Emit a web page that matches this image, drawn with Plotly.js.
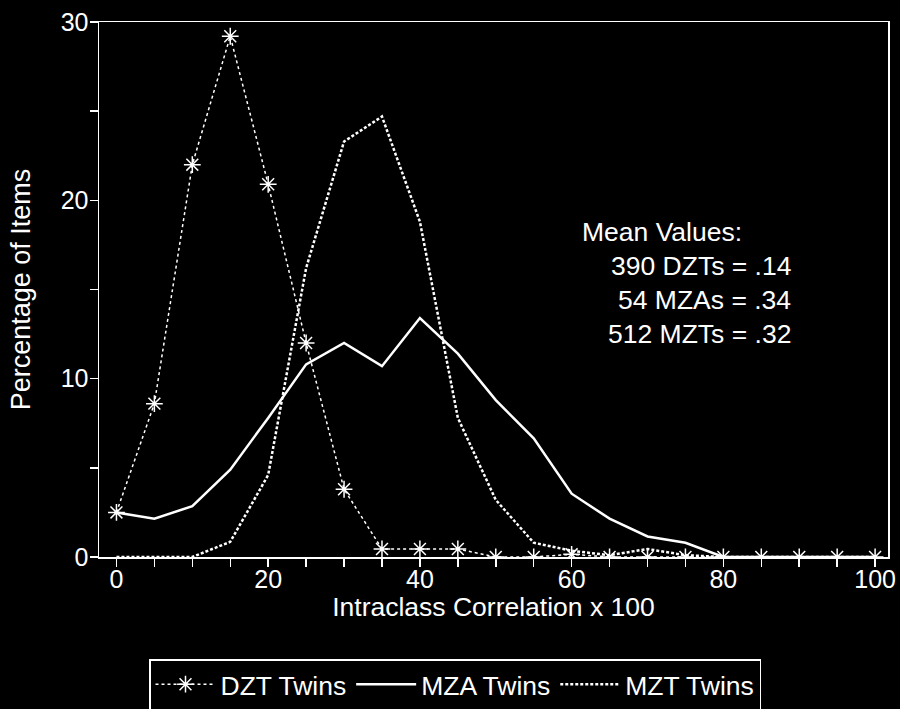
<!DOCTYPE html>
<html>
<head>
<meta charset="utf-8">
<script src="https://cdn.plot.ly/plotly-3.0.1.min.js"></script>
<style>html,body{margin:0;padding:0;background:#000;}#chart{width:900px;height:709px;}</style>
</head>
<body>
<div id="chart"></div>
<script>
const corr = [0,5,10,15,20,25,30,35,40,45,50,55,60,65,70,75,80,85,90,95,100];
const dzt = [2.5,8.6,22.0,29.2,20.9,12.0,3.8,0.45,0.45,0.45,0,0,0.15,0,0,0,0,0,0,0,0];
const mza = [2.5,2.15,2.85,4.9,7.8,10.8,12.0,10.7,13.4,11.4,8.8,6.65,3.55,2.15,1.15,0.8,0,0,0,0,0];
const mzt = [0,0,0,0.85,4.6,16.2,23.3,24.7,18.8,7.8,3.2,0.8,0.35,0.1,0.45,0.1,0,0,0,0,0];
const seriesNames = ['DZT Twins','MZA Twins','MZT Twins'];
const xTickVals = [0,5,10,15,20,25,30,35,40,45,50,55,60,65,70,75,80,85,90,95,100];
const xTickText = ['0','','','','20','','','','40','','','','60','','','','80','','','','100'];
const yTickVals = [0,5,10,15,20,25,30];
const yTickText = ['0','','10','','20','','30'];
const meanTitle = 'Mean Values:';
const meanLines = ['390 DZTs = .14','54 MZAs = .34','512 MZTs = .32'];

const FONT = '"Liberation Sans", Arial, Helvetica, sans-serif';

const traces = [
  {x: corr, y: dzt, name: seriesNames[0], type: 'scatter', mode: 'lines+markers',
   line: {color: '#fff', width: 1.5, dash: 'dot'},
   marker: {symbol: 'asterisk-open', size: 14, color: '#fff', line: {color: '#fff', width: 1.5}}},
  {x: corr, y: mza, name: seriesNames[1], type: 'scatter', mode: 'lines',
   line: {color: '#fff', width: 2.5}},
  {x: corr, y: mzt, name: seriesNames[2], type: 'scatter', mode: 'lines',
   line: {color: '#fff', width: 2.5, dash: '3px,2px'}}
];

const annotations = [
  {xref: 'paper', yref: 'paper', x: (580-99)/789, y: (557-232)/535, xanchor: 'left', yanchor: 'middle',
   text: meanTitle, showarrow: false, font: {family: FONT, size: 26.5, color: '#fff'}}
];
meanLines.forEach(function(t, i){
  annotations.push({xref: 'paper', yref: 'paper', x: (793-99)/789, y: (557-(266+i*34))/535,
    xanchor: 'right', yanchor: 'middle', text: t, showarrow: false,
    font: {family: FONT, size: 26.5, color: '#fff'}});
});

const axisCommon = {
  showline: true, linecolor: '#fff', linewidth: 1.5, mirror: true,
  ticks: 'outside', tickcolor: '#fff', tickwidth: 1.5, ticklen: 8,
  showgrid: false, zeroline: false, tickmode: 'array', automargin: false,
  tickfont: {family: FONT, size: 25, color: '#fff'}
};

const layout = {
  width: 900, height: 709,
  paper_bgcolor: '#000', plot_bgcolor: '#000',
  font: {family: FONT, color: '#fff'},
  margin: {l: 99, r: 12, t: 22, b: 152, autoexpand: false},
  showlegend: true,
  legend: {orientation: 'h', x: (149-99)/789, y: (557-659)/535, xanchor: 'left', yanchor: 'top',
    bgcolor: '#000', bordercolor: '#fff', borderwidth: 1.5, itemwidth: 60,
    font: {family: FONT, size: 26.5, color: '#fff'}},
  xaxis: Object.assign({}, axisCommon, {
    range: [-2.3, 101.7], tickvals: xTickVals, ticktext: xTickText, ticklabelstandoff: -9,
    title: {text: 'Intraclass Correlation x 100', font: {family: FONT, size: 26.5, color: '#fff'}, standoff: 5}
  }),
  yaxis: Object.assign({}, axisCommon, {
    range: [0, 30], tickvals: yTickVals, ticktext: yTickText, ticklabelstandoff: -4,
    title: {text: 'Percentage of Items', font: {family: FONT, size: 27, color: '#fff'}, standoff: 22}
  }),
  annotations: annotations
};

Plotly.newPlot('chart', traces, layout, {displayModeBar: false, staticPlot: true});
</script>
</body>
</html>
